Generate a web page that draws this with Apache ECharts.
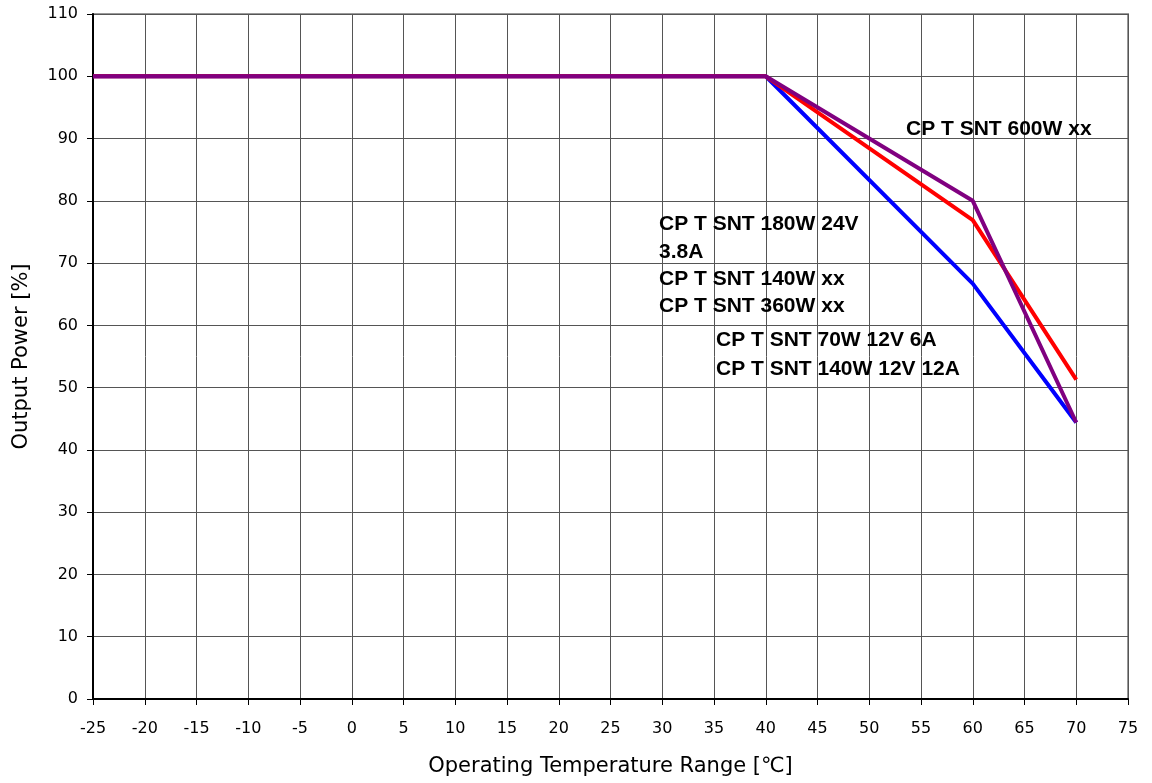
<!DOCTYPE html>
<html>
<head>
<meta charset="utf-8">
<script src="https://cdn.jsdelivr.net/npm/echarts@6/dist/echarts.min.js"></script>
<style>
html,body{margin:0;padding:0;background:#fff;}
#main{width:1152px;height:783px;}
</style>
</head>
<body>
<div id="main"></div>
<script>
// Data
const temperatures = [-25, 40, 60, 70];
const blueValues = [100, 100, 66.7, 44.4];
const redValues = [100, 100, 76.9, 51.3];
const purpleValues = [100, 100, 80, 44.4];
const xTitle = 'Operating Temperature Range [℃]';
const yTitle = 'Output Power [%]';
const notes600 = ['CP T SNT 600W xx'];
const notesRed = ['CP T SNT 180W 24V', '3.8A', 'CP T SNT 140W xx', 'CP T SNT 360W xx'];
const notesBlue = ['CP T SNT 70W 12V 6A', 'CP T SNT 140W 12V 12A'];

function pairs(vals) { return temperatures.map((t, i) => [t, vals[i]]); }

const chart = echarts.init(document.getElementById('main'), null, {renderer: 'canvas'});

const regFont = '"DejaVu Sans", "Liberation Sans", Arial, sans-serif';
const boldFont = '"Liberation Sans", Arial, sans-serif';

function textLines(lines, x, y0, step) {
  return lines.map((t, i) => ({
    type: 'text',
    left: x,
    top: y0 + i * step,
    z: 100,
    style: {
      text: t,
      fill: '#000',
      font: 'bold 21px ' + boldFont
    }
  }));
}

const option = {
  animation: false,
  backgroundColor: '#fff',
  grid: {
    left: 93, right: 24, top: 14, bottom: 84,
    show: true, borderColor: '#999', borderWidth: 2
  },
  xAxis: {
    type: 'value', min: -25, max: 75, interval: 5,
    name: xTitle, nameLocation: 'middle', nameGap: 57,
    nameTextStyle: {fontFamily: regFont, fontSize: 21, color: '#000'},
    axisLine: {show: true, onZero: false, lineStyle: {color: '#000', width: 2}},
    axisTick: {show: true, inside: false, length: 6, lineStyle: {color: '#000', width: 1}},
    axisLabel: {fontFamily: regFont, fontSize: 16, color: '#000', margin: 22},
    splitLine: {show: true, lineStyle: {color: '#555', width: 1}}
  },
  yAxis: {
    type: 'value', min: 0, max: 110, interval: 10,
    name: yTitle, nameLocation: 'middle', nameGap: 61,
    nameTextStyle: {fontFamily: regFont, fontSize: 21, color: '#000'},
    axisLine: {show: true, onZero: false, lineStyle: {color: '#000', width: 2}},
    axisTick: {show: true, inside: false, length: 6, lineStyle: {color: '#000', width: 1}},
    axisLabel: {fontFamily: regFont, fontSize: 16, color: '#000', margin: 15},
    splitLine: {show: true, lineStyle: {color: '#555', width: 1}}
  },
  series: [
    {type: 'line', data: pairs(blueValues), showSymbol: false, symbol: 'none',
     lineStyle: {color: '#0000FF', width: 4}, z: 2},
    {type: 'line', data: pairs(redValues), showSymbol: false, symbol: 'none',
     lineStyle: {color: '#FF0000', width: 4}, z: 3},
    {type: 'line', data: pairs(purpleValues), showSymbol: false, symbol: 'none',
     lineStyle: {color: '#800080', width: 4}, z: 4}
  ],
  graphic: [].concat(
    textLines(notes600, 906, 119, 27.3),
    textLines(notesRed, 659, 214, 27.3),
    textLines(notesBlue, 716, 330, 28.3)
  )
};
chart.setOption(option);
</script>
</body>
</html>
